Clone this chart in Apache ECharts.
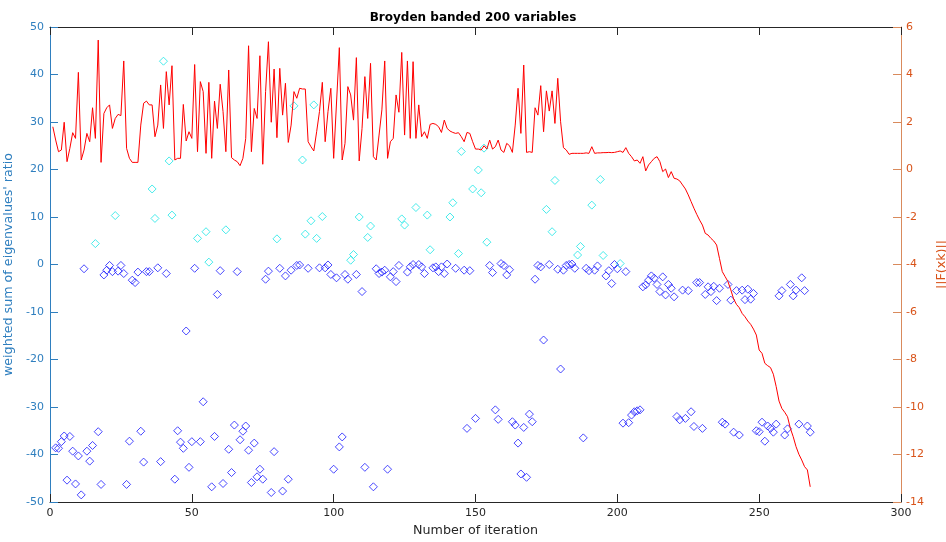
<!DOCTYPE html>
<html>
<head>
<meta charset="utf-8">
<script src="https://cdn.jsdelivr.net/npm/echarts@6/dist/echarts.min.js"></script>
<style>
html,body{margin:0;padding:0;background:#fff;}
#chart{width:946px;height:542px;}
</style>
</head>
<body>
<div id="chart"></div>
<script>
// ||F(xk)|| (log scale values) for iterations 1..268
var normF = [
1.80,1.24,0.75,0.82,1.99,0.33,0.89,1.55,1.31,4.09,
0.40,0.82,1.52,1.17,2.60,1.31,5.45,0.30,2.36,2.60,
2.72,1.73,2.15,2.32,2.27,4.57,0.89,0.47,0.30,0.30,
0.30,1.87,2.79,2.88,2.72,2.72,1.38,1.87,3.56,1.73,
4.12,2.72,4.37,0.40,0.47,0.47,2.74,1.20,1.59,1.31,
4.42,0.75,3.70,3.28,0.68,3.67,0.47,2.88,1.73,3.59,
2.44,0.75,4.19,0.50,0.40,0.33,0.16,0.47,1.31,5.21,
0.75,2.57,2.15,4.79,0.22,3.28,5.38,1.99,4.23,1.34,
4.26,2.29,3.63,1.14,1.87,3.28,3.00,3.42,3.39,3.39,
1.17,0.96,0.78,1.59,2.44,3.67,1.17,2.44,3.42,0.47,
2.80,5.13,0.40,1.10,3.49,3.14,2.08,4.71,0.36,1.73,
3.91,2.15,4.47,0.54,0.40,1.45,2.51,4.57,0.47,1.17,
1.31,3.14,2.41,4.93,1.45,4.57,1.31,4.54,1.31,2.72,
1.38,1.59,1.31,1.90,1.94,1.90,1.80,1.56,2.08,1.73,
1.62,1.56,1.52,1.55,1.38,1.17,1.56,1.52,1.17,0.86,
0.86,0.82,1.00,0.86,1.24,0.86,0.96,1.24,0.82,0.72,
1.10,1.00,0.72,1.87,3.42,1.52,4.40,0.72,0.75,0.72,
2.60,2.29,3.53,1.59,3.31,2.46,3.31,1.94,3.84,2.01,
0.92,0.82,0.64,0.68,0.68,0.68,0.68,0.68,0.70,0.68,
0.96,0.68,0.70,0.70,0.71,0.71,0.72,0.71,0.72,0.75,
0.78,0.72,0.92,0.68,0.54,0.36,0.40,0.26,0.54,-0.06,
0.19,0.33,0.47,0.54,0.33,-0.09,0.02,-0.34,-0.09,-0.37,
-0.40,-0.48,-0.65,-0.82,-1.07,-1.35,-1.63,-1.89,-2.13,-2.34,
-2.69,-2.76,-2.90,-3.01,-3.18,-3.74,-4.30,-4.51,-4.72,-5.07,
-5.45,-5.68,-5.82,-6.06,-6.20,-6.38,-6.52,-6.72,-6.97,-7.60,
-7.74,-8.16,-8.26,-8.34,-8.62,-9.14,-9.75,-10.06,-10.22,-10.41,
-10.90,-11.25,-11.67,-11.99,-12.23,-12.51,-12.65,-13.36
];

// blue diamonds: iteration and weighted sum of eigenvalues' ratio
var blueIter = [2,3,4,5,6,7,8,9,10,11,12,13,14,15,17,18,19,20,21,22,24,25,26,27,28,29,30,31,32,33,34,35,38,39,41,44,45,46,47,48,49,50,
51,53,54,57,58,59,60,61,63,64,65,66,67,68,69,70,71,72,73,74,75,76,77,78,79,81,82,83,84,85,87,88,91,95,97,98,99,100,
101,102,103,104,105,108,110,111,114,115,116,117,118,119,120,121,122,123,126,127,128,130,131,132,135,136,137,138,139,140,143,146,147,148,150,
155,156,157,158,159,160,161,162,163,164,165,166,167,168,169,170,171,172,173,174,176,179,180,181,182,183,184,185,188,189,190,192,193,196,197,198,199,200,
202,203,204,205,206,207,208,209,210,211,212,213,214,215,216,217,218,219,220,221,222,223,224,225,226,227,228,229,230,231,232,233,234,235,236,237,238,239,240,241,242,243,244,245,246,247,248,249,250,
251,252,253,254,255,256,257,258,259,260,261,262,263,264,265,266,267,268];
var blueVal = [-38.6,-38.7,-37.3,-36.1,-45.4,-36.2,-39.3,-46.2,-40.3,-48.5,-0.9,-39.3,-41.4,-38.1,-35.2,-46.3,-2.2,-1.2,-0.2,-1.5,-1.4,-0.2,-1.9,-46.3,-37.2,-3.3,-3.8,-1.6,-35.1,-41.6,-1.5,-1.5,-0.7,-41.5,-1.9,-45.2,-35.0,-37.4,-38.7,-14.0,-42.7,-37.3,
-0.8,-37.3,-28.9,-46.8,-36.2,-6.3,-1.3,-46.1,-38.9,-43.8,-33.8,-1.5,-36.9,-35.1,-34.0,-39.1,-45.9,-37.6,-44.7,-43.1,-45.2,-3.1,-1.4,-48.0,-39.4,-0.8,-47.7,-2.4,-45.2,-1.2,-0.2,-0.1,-0.8,-0.7,-0.7,-0.1,-2.1,-43.1,
-2.8,-38.4,-36.3,-2.1,-3.1,-2.1,-5.7,-42.7,-46.8,-0.9,-1.9,-1.6,-1.2,-43.1,-2.6,-1.5,-3.6,-0.2,-1.6,-0.5,0.0,0.0,-0.5,-1.9,-0.7,-0.5,-1.5,-0.5,-1.9,0.1,-0.8,-1.2,-34.5,-1.3,-32.4,
-0.2,-1.7,-30.6,-32.6,0.2,-0.2,-2.2,-1.1,-33.1,-33.8,-37.6,-44.1,-34.3,-44.8,-31.5,-33.1,-3.1,-0.2,-0.5,-15.9,0.0,-1.0,-22.0,-1.2,-0.2,0.0,0.1,-0.8,-36.5,-0.8,-1.3,-1.2,-0.3,-2.4,-1.3,-4.0,0.0,-0.9,
-33.4,-1.5,-33.3,-31.7,-31.0,-30.8,-30.6,-4.7,-4.3,-3.3,-2.4,-2.9,-4.2,-5.7,-2.6,-6.4,-4.2,-5.0,-6.8,-32.0,-32.7,-5.4,-32.4,-5.5,-31.0,-34.1,-3.8,-3.8,-34.5,-6.3,-4.7,-5.7,-4.6,-7.6,-5.0,-33.2,-33.6,-4.2,-7.5,-35.3,-5.5,-35.9,-5.4,-7.4,-5.2,-7.3,-6.1,-35.0,-35.2,
-33.2,-37.2,-34.0,-34.5,-35.3,-33.6,-6.6,-5.5,-35.9,-34.6,-4.2,-6.6,-5.4,-33.6,-2.8,-5.5,-34.0,-35.3];

// cyan diamonds
var cyanIter = [16,23,36,37,40,42,43,52,55,56,62,80,86,89,90,92,93,94,96,106,107,109,112,113,124,125,129,133,134,141,142,144,145,149,151,152,153,154,175,177,178,186,187,191,194,195,201];
var cyanVal = [4.4,10.3,15.9,9.7,42.8,21.8,10.4,5.5,6.9,0.5,7.3,5.4,33.4,22.0,6.4,9.2,33.6,5.5,10.1,0.9,2.1,10.0,5.7,8.1,9.6,8.3,12.0,10.4,3.1,10.0,13.0,2.3,23.8,15.9,19.9,15.1,24.5,4.7,11.6,6.9,17.7,2.0,3.8,12.5,17.9,1.9,0.2];

var xTicks = [0,50,100,150,200,250,300];
var leftTicks = [-50,-40,-30,-20,-10,0,10,20,30,40,50];
var rightTicks = [-14,-12,-10,-8,-6,-4,-2,0,2,4,6];

function pairs(xs, ys){ return xs.map(function(x,i){ return [x, ys[i]]; }); }
var lineData = normF.map(function(v,i){ return [i+1, v]; });

var FONT = 'DejaVu Sans';
var LEFTC = '#2f7fbf';
var RIGHTC = '#D95319';
var AXC = '#262626';

var chart = echarts.init(document.getElementById('chart'), null, {renderer:'canvas'});
chart.setOption({
  animation: false,
  backgroundColor: '#ffffff',
  title: {
    text: 'Broyden banded 200 variables',
    left: 'center', top: 7,
    textStyle: {fontFamily: FONT, fontSize: 12, fontWeight: 'bold', color: '#000'}
  },
  grid: {left: 50, right: 45, top: 27, bottom: 40, containLabel: false, outerBoundsMode: 'none'},
  xAxis: [{
    type: 'value', position: 'bottom',
    min: xTicks[0], max: xTicks[xTicks.length-1], interval: xTicks[1]-xTicks[0],
    name: 'Number of iteration', nameLocation: 'middle', nameGap: 22,
    nameTextStyle: {fontFamily: FONT, fontSize: 12.7, color: AXC},
    axisLine: {show: true, onZero: false, lineStyle: {color: AXC, width: 1}},
    axisTick: {show: true, inside: true, length: 8, lineStyle: {color: AXC}},
    axisLabel: {fontFamily: FONT, fontSize: 11, color: AXC, margin: 6},
    splitLine: {show: false}
  },{
    type: 'value', position: 'top',
    min: xTicks[0], max: xTicks[xTicks.length-1], interval: xTicks[1]-xTicks[0],
    axisLine: {show: true, onZero: false, lineStyle: {color: AXC, width: 1}},
    axisTick: {show: true, inside: true, length: 8, lineStyle: {color: AXC}},
    axisLabel: {show: false},
    splitLine: {show: false}
  }],
  yAxis: [{
    type: 'value', position: 'left',
    min: leftTicks[0], max: leftTicks[leftTicks.length-1], interval: 10,
    name: "weighted sum of eigenvalues' ratio", nameLocation: 'middle', nameGap: 21,
    nameTextStyle: {fontFamily: FONT, fontSize: 12.7, color: LEFTC},
    axisLine: {show: true, onZero: false, lineStyle: {color: LEFTC, width: 1}},
    axisTick: {show: true, inside: true, length: 8, lineStyle: {color: LEFTC}},
    axisLabel: {fontFamily: FONT, fontSize: 11, color: LEFTC, margin: 6},
    splitLine: {show: false}
  },{
    type: 'value', position: 'right',
    min: rightTicks[0], max: rightTicks[rightTicks.length-1], interval: 2,
    name: '||F(xk)||', nameLocation: 'middle', nameGap: 29, nameRotate: 90,
    nameTextStyle: {fontFamily: FONT, fontSize: 12.7, color: RIGHTC},
    axisLine: {show: true, onZero: false, lineStyle: {color: '#d98a5c', width: 1}},
    axisTick: {show: true, inside: true, length: 8, lineStyle: {color: '#d98a5c'}},
    axisLabel: {fontFamily: FONT, fontSize: 11, color: RIGHTC, margin: 5},
    splitLine: {show: false}
  }],
  series: [{
    name: 'blue', type: 'scatter', xAxisIndex: 0, yAxisIndex: 0,
    data: pairs(blueIter, blueVal),
    symbol: 'diamond', symbolSize: 8,
    itemStyle: {color: 'rgba(0,0,0,0)', borderColor: '#1a1aff', borderWidth: 1}
  },{
    name: 'cyan', type: 'scatter', xAxisIndex: 0, yAxisIndex: 0,
    data: pairs(cyanIter, cyanVal),
    symbol: 'diamond', symbolSize: 8,
    itemStyle: {color: 'rgba(0,0,0,0)', borderColor: '#19e6e6', borderWidth: 1}
  },{
    name: 'normF', type: 'line', xAxisIndex: 0, yAxisIndex: 1,
    data: lineData, showSymbol: false, symbol: 'none',
    lineStyle: {color: '#ff0000', width: 1},
    z: 3
  }]
});
</script>
</body>
</html>
